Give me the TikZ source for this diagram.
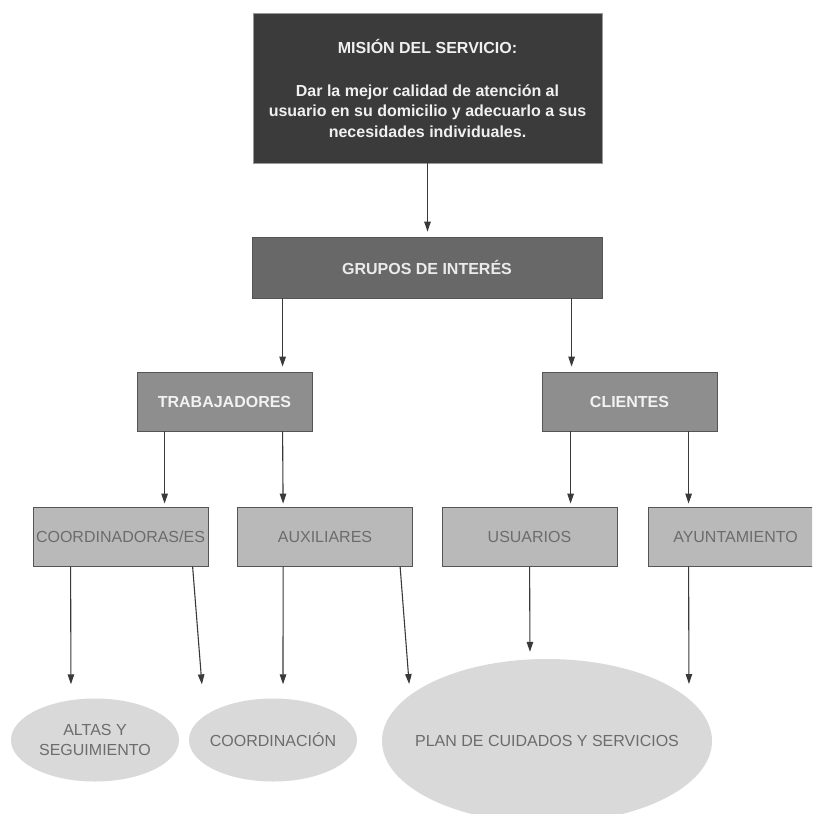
\documentclass[tikz,border=0pt]{standalone}
\usepackage{fontspec}
\setmainfont{Liberation Sans}
\usetikzlibrary{calc,arrows.meta,shapes.geometric}
\definecolor{cmis}{HTML}{3B3B3B}
\definecolor{cgru}{HTML}{686868}
\definecolor{clev}{HTML}{8E8E8E}
\definecolor{cbox}{HTML}{B9B9B9}
\definecolor{cell}{HTML}{D9D9D9}
\definecolor{ctxt}{HTML}{6C6C6C}
\definecolor{cline}{HTML}{3A3A3A}
\definecolor{cbord}{HTML}{555555}
\newcommand{\zw}[1]{\makebox[0pt][c]{#1}}
\tikzset{
  base/.style={rectangle, inner sep=0pt, font=\fontsize{16}{20.5}\selectfont, align=center},
  misbox/.style={base, fill=cmis, draw=gray!80, line width=0.8pt, text=white!94!black, font=\fontsize{16}{20.5}\selectfont\bfseries},
  grubox/.style={base, fill=cgru, draw=cbord, line width=0.8pt, text=white!92!black, font=\fontsize{16}{20.5}\selectfont\bfseries},
  levbox/.style={base, fill=clev, draw=cbord, line width=0.8pt, text=white!95!black, font=\fontsize{16}{20.5}\selectfont\bfseries, minimum width=175pt, minimum height=59pt},
  lowbox/.style={base, fill=cbox, draw=cbord, line width=0.8pt, text=ctxt, minimum width=175pt, minimum height=59pt},
  oval/.style={ellipse, inner sep=0pt, fill=cell, draw=none, text=ctxt, align=center, font=\fontsize{16}{20}\selectfont},
  arr/.style={draw=cline, line width=1.1pt, -{Triangle[length=10pt,width=6.5pt]}, fill=none}
}
\begin{document}
\begin{tikzpicture}[x=1pt,y=-1pt]
\useasboundingbox (0,0) rectangle (812,814);
\clip (0,0) rectangle (812,814);
\fill[white] (0,0) rectangle (812,814);

\node[misbox, minimum width=349pt, minimum height=150pt] (mis) at (427.5,88)
  {MISIÓN DEL SERVICIO:\\[22.5pt]Dar la mejor calidad de atención al\\usuario en su domicilio y adecuarlo a sus\\necesidades individuales.};
\node[grubox, minimum width=350pt, minimum height=61pt] (gru) at (427,267.5) {GRUPOS DE INTERÉS};
\node[levbox] (trab) at (224.5,401.5) {TRABAJADORES};
\node[levbox] (cli) at (629.5,401.5) {CLIENTES};
\node[lowbox] (coordb) at (120.5,536.5) {COORDINADORAS/ES};
\node[lowbox] (aux) at (325,536.5) {AUXILIARES};
\node[lowbox] (usu) at (529.5,536.5) {USUARIOS};
\node[lowbox] (ayu) at (735.5,536.5) {AYUNTAMIENTO};
\node[oval, minimum width=168pt, minimum height=83pt] (altas) at (95,740) {\zw{ALTAS Y}\\\zw{SEGUIMIENTO}};
\node[oval, minimum width=168pt, minimum height=83pt] (coordn) at (273,740) {\zw{COORDINACIÓN}};
\node[oval, minimum width=330pt, minimum height=164pt] (plan) at (547,741) {\zw{PLAN DE CUIDADOS Y SERVICIOS}};

\draw[arr, shorten >=5pt] (mis.south) -- (mis.south |- gru.north);
\draw[arr, shorten >=5pt] ($(gru.south west)+(31,0)$) -- ($(trab.north west)+(146,0)$);
\draw[arr, shorten >=5pt] ($(gru.south west)+(320,0)$) -- ($(cli.north west)+(30,0)$);
\draw[arr, shorten >=3pt] ($(trab.south west)+(28,0)$) -- ($(coordb.north west)+(132,0)$);
\draw[arr, shorten >=3pt] ($(trab.south west)+(146,0)$) -- ($(aux.north west)+(46,0)$);
\draw[arr, shorten >=3pt] ($(cli.south west)+(29,0)$) -- ($(usu.north west)+(129,0)$);
\draw[arr, shorten >=3pt] ($(cli.south west)+(147,0)$) -- ($(ayu.north west)+(41,0)$);

\draw[arr, shorten >=14pt] ($(coordb.south west)+(38,0)$) -- ($(altas.north)+(-24,0)$);
\draw[arr, shorten >=14pt] ($(coordb.south west)+(160,0)$) -- ($(coordn.north)+(-70,0)$);
\draw[arr, shorten >=14pt] ($(aux.south west)+(46,0)$) -- ($(coordn.north)+(10,0)$);
\draw[arr, shorten >=11pt] ($(aux.south west)+(163,0)$) -- ($(plan.center)+(-137,-46)$);
\draw[arr, shorten >=7pt] ($(usu.south west)+(88,0)$) -- ($(plan.north)+(-17,0)$);
\draw[arr, shorten >=15pt] ($(ayu.south west)+(41,0)$) -- ($(plan.center)+(142,-42)$);
\end{tikzpicture}
\end{document}
